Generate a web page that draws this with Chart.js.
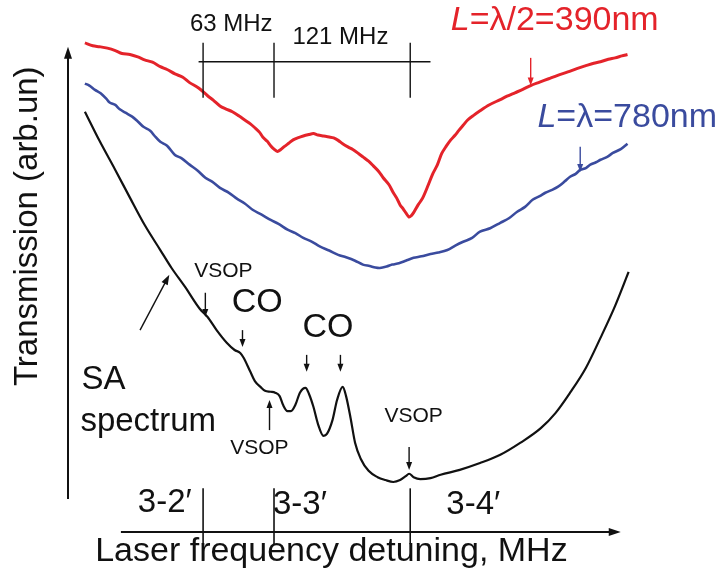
<!DOCTYPE html>
<html>
<head>
<meta charset="utf-8">
<script src="https://cdn.jsdelivr.net/npm/chart.js@4/dist/chart.umd.min.js"></script>
<style>
  html, body { margin: 0; background: #fff; }
</style>
</head>
<body>
<canvas id="chart" width="720" height="582"></canvas>
<script>
// detuning in MHz (3-4' = 0), transmission in arb. units
const redMHz = [-289,-282,-276,-269,-262,-256,-249,-242,-236,-229,-222,-216,-209,-202,-196,-188,-180,-175,-169,-164,-158,-152,-147,-142,-138,-134,-131,-127,-124,-121,-118,-115,-112,-108,-104,-100,-95,-90,-86,-82,-77,-72,-68,-64,-60,-55,-51,-46,-42,-37,-33,-28,-24,-19,-15,-12,-9,-6,-4,-1,1,3,7,11,16,20,24,28,32,36,40,43,47,51,56,62,70,80,86,93,100,107,115,123,131,140,148,156,163,169,176,182,188,193];
const redT = [10.08,10.02,10.00,9.97,9.92,9.86,9.84,9.79,9.73,9.68,9.59,9.53,9.44,9.37,9.26,9.15,8.99,8.90,8.78,8.72,8.66,8.57,8.49,8.41,8.33,8.24,8.14,8.05,7.96,7.89,7.84,7.88,7.94,8.01,8.08,8.12,8.16,8.19,8.21,8.18,8.16,8.14,8.12,8.07,8.00,7.93,7.88,7.80,7.73,7.64,7.55,7.43,7.30,7.16,6.99,6.88,6.74,6.65,6.58,6.49,6.52,6.58,6.74,6.88,7.15,7.38,7.56,7.80,7.95,8.08,8.18,8.27,8.38,8.49,8.58,8.68,8.80,8.91,8.98,9.05,9.12,9.20,9.27,9.34,9.41,9.48,9.55,9.61,9.66,9.69,9.74,9.77,9.81,9.84];

const blueMHz = [-289,-285,-280,-275,-270,-267,-262,-258,-253,-247,-242,-237,-231,-227,-222,-216,-209,-203,-196,-189,-182,-176,-169,-161,-154,-147,-140,-132,-124,-117,-109,-102,-95,-88,-80,-72,-64,-57,-49,-42,-36,-31,-27,-21,-16,-10,-4,3,10,18,25,33,40,47,55,62,71,80,88,95,102,109,115,120,126,131,137,142,147,151,156,160,165,169,175,180,187,193];
const blueT = [9.24,9.20,9.11,9.04,8.93,8.85,8.80,8.71,8.64,8.56,8.46,8.35,8.27,8.16,8.04,7.96,7.77,7.70,7.57,7.45,7.30,7.22,7.09,6.99,6.87,6.77,6.64,6.54,6.43,6.35,6.23,6.16,6.06,5.99,5.88,5.80,5.71,5.66,5.59,5.51,5.48,5.45,5.44,5.47,5.51,5.54,5.59,5.65,5.68,5.73,5.76,5.81,5.90,5.98,6.06,6.19,6.26,6.37,6.47,6.60,6.70,6.85,6.92,6.99,7.05,7.11,7.22,7.32,7.38,7.46,7.50,7.57,7.62,7.67,7.73,7.81,7.89,8.00];

const saMHz = [-289,-276,-262,-249,-236,-222,-212,-200,-187,-180,-172,-163,-156,-151,-148,-142,-138,-133,-129,-124,-120,-116,-113,-109,-106,-102,-98,-93,-90,-86,-82,-77,-74,-69,-65,-60,-57,-53,-49,-44,-37,-29,-22,-15,-9,-4,-1,3,9,18,27,44,62,80,98,116,129,142,156,169,182,194];
const saT = [8.66,8.06,7.46,6.89,6.33,5.81,5.44,5.05,4.60,4.43,4.16,3.90,3.75,3.69,3.59,3.30,3.11,2.99,2.91,2.89,2.87,2.80,2.62,2.49,2.49,2.62,2.87,2.97,2.85,2.58,2.23,1.98,2.02,2.31,2.72,2.99,2.80,2.35,1.84,1.51,1.26,1.13,1.07,1.03,1.07,1.15,1.20,1.13,1.09,1.11,1.18,1.28,1.42,1.59,1.84,2.14,2.45,2.87,3.38,4.00,4.66,5.36];

const transitionMHz = [-184, -121, 0];
const transitionLabels = ["3-2\u2032", "3-3\u2032", "3-4\u2032"];
const splittingLabels = ["63 MHz", "121 MHz"];

const pts = (xs, ys) => xs.map((x, i) => ({ x, y: ys[i] }));
const FONT = "'Liberation Sans', Arial, sans-serif";
const RED = "#e4232a", BLUE = "#3a4b9e", INK = "#111";

const annotations = {
  id: "annotations",
  afterDraw(chart) {
    const ctx = chart.ctx;
    const X = v => chart.scales.x.getPixelForValue(v);
    const Y = v => chart.scales.y.getPixelForValue(v);

    function line(x1, y1, x2, y2, color, w) {
      ctx.strokeStyle = color; ctx.lineWidth = w;
      ctx.beginPath(); ctx.moveTo(x1, y1); ctx.lineTo(x2, y2); ctx.stroke();
    }
    function arrow(x1, y1, x2, y2, color, w, len, half) {
      const a = Math.atan2(y2 - y1, x2 - x1);
      line(x1, y1, x2 - Math.cos(a) * len * 0.6, y2 - Math.sin(a) * len * 0.6, color, w);
      ctx.fillStyle = color;
      ctx.beginPath();
      ctx.moveTo(x2, y2);
      ctx.lineTo(x2 - len * Math.cos(a) + half * Math.sin(a), y2 - len * Math.sin(a) - half * Math.cos(a));
      ctx.lineTo(x2 - len * Math.cos(a) - half * Math.sin(a), y2 - len * Math.sin(a) + half * Math.cos(a));
      ctx.closePath(); ctx.fill();
    }
    function text(s, x, y, size, color, align) {
      ctx.font = size + "px " + FONT;
      ctx.fillStyle = color; ctx.textAlign = align || "center"; ctx.textBaseline = "middle";
      ctx.fillText(s, x, y);
    }
    function lLabel(rest, x, y, size, color) {
      ctx.font = "italic " + size + "px " + FONT;
      ctx.fillStyle = color; ctx.textAlign = "left"; ctx.textBaseline = "middle";
      ctx.fillText("L", x, y);
      const w = ctx.measureText("L").width;
      ctx.font = size + "px " + FONT;
      ctx.fillText(rest, x + w, y);
    }

    ctx.save();
    // axes
    arrow(X(-304), Y(0.68), X(-304), Y(10), INK, 2, 12, 4);
    arrow(X(-257), Y(0), X(187), Y(0), INK, 2, 12, 4);

    // transitions along the bottom and the splitting scale on top
    transitionMHz.forEach(v => {
      line(X(v), Y(0.9), X(v), Y(-0.25), INK, 1.6);
      line(X(v), Y(10.08), X(v), Y(8.95), INK, 1.4);
    });
    line(X(-188), Y(9.69), X(18), Y(9.69), INK, 1.4);
    text(transitionLabels[0], X(-218), Y(0.6), 33, INK);
    text(transitionLabels[1], X(-98), Y(0.56), 33, INK);
    text(transitionLabels[2], X(56), Y(0.56), 33, INK);
    text(splittingLabels[0], X(-159), Y(10.45), 24, INK);
    text(splittingLabels[1], X(-62), Y(10.19), 24, INK);

    // curve labels
    lLabel("=\u03bb/2=390nm", X(36), Y(10.54), 34, RED);
    arrow(X(107), Y(9.77), X(107), Y(9.2), RED, 1.4, 8, 3);
    lLabel("=\u03bb=780nm", X(113), Y(8.54), 34, BLUE);
    arrow(X(151), Y(7.94), X(151), Y(7.42), BLUE, 1.4, 8, 3);

    text("SA", X(-292), Y(3.13), 33, INK, "left");
    text("spectrum", X(-293), Y(2.27), 33, INK, "left");
    arrow(X(-240), Y(4.16), X(-214), Y(5.3), INK, 1.4, 10, 3.5);

    text("VSOP", X(-166), Y(5.38), 21, INK);
    arrow(X(-182), Y(4.93), X(-182), Y(4.43), INK, 1.4, 8, 3);
    text("CO", X(-136), Y(4.72), 34, INK);
    arrow(X(-149), Y(4.16), X(-149), Y(3.81), INK, 1.4, 8, 3);
    text("CO", X(-73), Y(4.21), 34, INK);
    arrow(X(-92), Y(3.65), X(-92), Y(3.3), INK, 1.4, 8, 3);
    arrow(X(-62), Y(3.65), X(-62), Y(3.3), INK, 1.4, 8, 3);
    text("VSOP", X(-134), Y(1.73), 21, INK);
    arrow(X(-125), Y(2.1), X(-125), Y(2.72), INK, 1.4, 8, 3);
    text("VSOP", X(3), Y(2.39), 21, INK);
    arrow(X(-1), Y(1.75), X(-1), Y(1.28), INK, 1.4, 8, 3);

    // axis titles
    text("Laser frequency detuning, MHz", X(-70), Y(-0.4), 34, INK);
    ctx.translate(X(-304) - 40, Y(6.3));
    ctx.rotate(-Math.PI / 2);
    text("Transmission (arb.un)", 0, 0, 33, INK);
    ctx.restore();
  }
};

new Chart(document.getElementById("chart"), {
  type: "line",
  data: {
    datasets: [
      { label: "L=\u03bb/2=390nm", data: pts(redMHz, redT), borderColor: RED, borderWidth: 3, tension: 0.3 },
      { label: "L=\u03bb=780nm", data: pts(blueMHz, blueT), borderColor: BLUE, borderWidth: 2.6, tension: 0.3 },
      { label: "SA spectrum", data: pts(saMHz, saT), borderColor: INK, borderWidth: 2.2, cubicInterpolationMode: "monotone" }
    ]
  },
  options: {
    responsive: false,
    animation: false,
    devicePixelRatio: 1,
    elements: { point: { radius: 0 } },
    layout: { padding: { left: 68, right: 88, top: 37, bottom: 50 } },
    scales: {
      x: { type: "linear", min: -304, max: 197, display: false },
      y: { min: 0, max: 10.2, display: false }
    },
    plugins: { legend: { display: false }, tooltip: { enabled: false } }
  },
  plugins: [annotations]
});
</script>
</body>
</html>
